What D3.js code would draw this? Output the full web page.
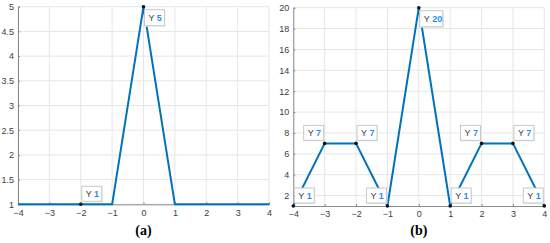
<!DOCTYPE html>
<html>
<head>
<meta charset="utf-8">
<script src="https://cdn.jsdelivr.net/npm/d3@7"></script>
<style>
  body { margin: 0; background: #fff; }
  svg { display: block; font-family: "Liberation Sans", Arial, sans-serif; }
</style>
</head>
<body>
<svg id="chart" width="550" height="243"></svg>
<script>
// data
const xTicks = [-4, -3, -2, -1, 0, 1, 2, 3, 4];

// panel (a)
const xA = [-4, -1, 0, 1, 4];
const yA = [1, 1, 5, 1, 1];
const tipXA = [-2, 0];
const tipYA = [1, 5];
const yTicksA = [1, 1.5, 2, 2.5, 3, 3.5, 4, 4.5, 5];

// panel (b)
const xB = [-4, -3, -2, -1, 0, 1, 2, 3, 4];
const yB = [1, 7, 7, 1, 20, 1, 7, 7, 1];
const tipXB = [-4, -3, -2, -1, 0, 1, 2, 3, 4];
const tipYB = [1, 7, 7, 1, 20, 1, 7, 7, 1];
const yTicksB = [2, 4, 6, 8, 10, 12, 14, 16, 18, 20];

const svg = d3.select("#chart");
const blue = "#0072BD";

// where each data tip box sits relative to its point
const sideA = ["ur", "br"];
const sideB = ["ur", "ul", "ur", "ul", "br", "ur", "ul", "ur", "ul"];

function panel(opt) {
  const x = d3.scaleLinear().domain([-4, 4]).range([opt.x0, opt.x1]);
  const y = d3.scaleLinear().domain(opt.yDomain).range([opt.yb, opt.yt]);
  const g = svg.append("g");

  // grid
  g.selectAll(".gx").data(xTicks).join("line")
    .attr("x1", d => x(d)).attr("x2", d => x(d))
    .attr("y1", opt.yt).attr("y2", opt.yb)
    .attr("stroke", "#e6e6e6").attr("stroke-width", 1);
  g.selectAll(".gy").data(opt.yTicks).join("line")
    .attr("x1", opt.x0).attr("x2", opt.x1)
    .attr("y1", d => y(d)).attr("y2", d => y(d))
    .attr("stroke", "#e6e6e6").attr("stroke-width", 1);

  // axes
  const ax = g.append("g").attr("transform", `translate(0,${opt.yb})`)
    .call(d3.axisBottom(x).tickValues(xTicks).tickSize(-2).tickPadding(5).tickFormat(d3.format("d")));
  const ay = g.append("g").attr("transform", `translate(${opt.x0},0)`)
    .call(d3.axisLeft(y).tickValues(opt.yTicks).tickSize(-2).tickPadding(4).tickFormat(d3.format("~g")));
  [ax, ay].forEach(a => {
    a.select(".domain").attr("stroke", "#8a8a8a");
    a.selectAll(".tick line").attr("stroke", "#8a8a8a");
    a.selectAll("text").attr("fill", "#404040").style("font-size", "9px")
      .style("font-family", "'Liberation Sans', Arial, sans-serif");
  });

  // line
  const pts = opt.xs.map((d, i) => [d, opt.ys[i]]);
  g.append("path")
    .attr("d", d3.line().x(d => x(d[0])).y(d => y(d[1]))(pts))
    .attr("fill", "none").attr("stroke", blue).attr("stroke-width", 2)
    .attr("stroke-linejoin", "round");

  // data tips
  opt.tipX.forEach((tx, i) => {
    const px = x(tx), py = y(opt.tipY[i]);
    const side = opt.sides[i];
    const label = String(opt.tipY[i]);
    const w = label.length > 1 ? 23 : 20, h = side[0] === "b" ? 16 : 15;
    const bx = side[1] === "r" ? px + 1 : px - w - 1;
    const by = side[0] === "u" ? py - h - 3 : py + 3;
    const tip = g.append("g");
    tip.append("rect")
      .attr("x", bx + 1).attr("y", by + 1).attr("width", w).attr("height", h)
      .attr("fill", "#e8e8e8");
    tip.append("rect")
      .attr("x", bx).attr("y", by).attr("width", w).attr("height", h)
      .attr("fill", "#fff").attr("stroke", "#c8c8c8").attr("stroke-width", 1);
    const t = tip.append("text")
      .attr("x", bx + 4).attr("y", by + h / 2 + 3.5)
      .style("font-size", "9px");
    t.append("tspan").attr("fill", "#404040").text("Y ");
    t.append("tspan").attr("fill", "#1f8ef1").attr("font-weight", "bold").text(label);
    g.append("circle").attr("cx", px).attr("cy", py).attr("r", 1.8).attr("fill", "#111");
  });

  // caption
  svg.append("text")
    .attr("x", (opt.x0 + opt.x1) / 2).attr("y", 235)
    .attr("text-anchor", "middle")
    .style("font-family", "'Liberation Serif', 'Times New Roman', serif")
    .style("font-size", "14px").style("font-weight", "bold")
    .text(opt.caption);
}

panel({
  x0: 18, x1: 269, yt: 6.7, yb: 204.3, yDomain: [1, 5], yTicks: yTicksA,
  xs: xA, ys: yA, tipX: tipXA, tipY: tipYA, sides: sideA, caption: "(a)"
});
panel({
  x0: 293.3, x1: 544.3, yt: 7.7, yb: 206, yDomain: [1, 20], yTicks: yTicksB,
  xs: xB, ys: yB, tipX: tipXB, tipY: tipYB, sides: sideB, caption: "(b)"
});
</script>
</body>
</html>
